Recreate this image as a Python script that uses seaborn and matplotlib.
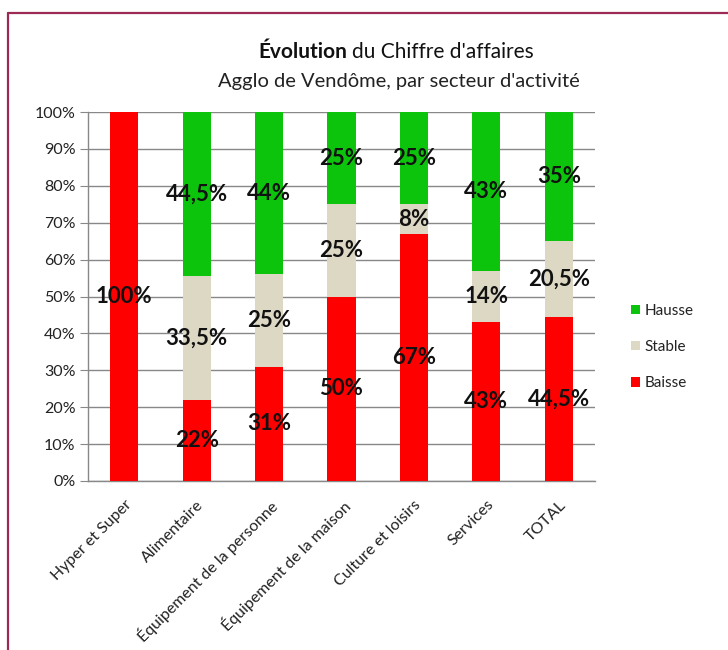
import matplotlib
matplotlib.use("Agg")
import matplotlib.pyplot as plt
import seaborn as sns
import numpy as np
import pandas as pd
from matplotlib.patches import Patch
from matplotlib.lines import Line2D

categories = ["Hyper et Super", "Alimentaire", "Équipement de la personne",
              "Équipement de la maison", "Culture et loisirs", "Services", "TOTAL"]
baisse = [100, 22, 31, 50, 67, 43, 44.5]
stable = [0, 33.5, 25, 25, 8, 14, 20.5]
hausse = [0, 44.5, 44, 25, 25, 43, 35]
series_names = ["Hausse", "Stable", "Baisse"]
colors = {"Hausse": "#0CC40C", "Stable": "#DDD8C4", "Baisse": "#FE0000"}

sns.set_style("white")
plt.rcParams["font.family"] = ["Lato", "DejaVu Sans"]

df = pd.DataFrame({"cat": categories, "Baisse": baisse, "Stable": stable, "Hausse": hausse})
df["cum_stable"] = df["Baisse"] + df["Stable"]
df["cum_hausse"] = df["cum_stable"] + df["Hausse"]

W, H = 728, 650
fig = plt.figure(figsize=(W / 100, H / 100), dpi=100)
ax = fig.add_axes([88 / W, 1 - 481 / H, (595 - 88) / W, (481 - 112) / H])

# stacked bars drawn as overlapping cumulative totals
for col, name in [("cum_hausse", "Hausse"), ("cum_stable", "Stable"), ("Baisse", "Baisse")]:
    sns.barplot(data=df, x="cat", y=col, color=colors[name], saturation=1,
                width=0.39, linewidth=0, ax=ax, zorder=3)


def fr_pct(v):
    s = f"{v:g}".replace(".", ",")
    return s + "%"


for i in range(len(categories)):
    bottom = 0
    for name, vals in [("Baisse", baisse), ("Stable", stable), ("Hausse", hausse)]:
        v = vals[i]
        if v > 0:
            ax.text(i, bottom + v / 2, fr_pct(v), ha="center", va="center",
                    fontsize=16, fontweight="bold", color="#111111", zorder=5)
        bottom += v

ax.set_ylim(0, 100)
ax.set_xlim(-0.5, len(categories) - 0.5)
ax.set_yticks(np.arange(0, 101, 10))
ax.set_yticklabels([f"{t}%" for t in range(0, 101, 10)], fontsize=11.5, color="#222222")
ax.yaxis.grid(True, color="#888888", linewidth=1, zorder=0)
ax.set_axisbelow(True)
ax.set_xlabel("")
ax.set_ylabel("")
ax.set_xticks(range(len(categories)))
ax.set_xticklabels(categories, rotation=45, ha="right", rotation_mode="anchor",
                   fontsize=11.5, color="#222222")
ax.set_xticks(np.arange(-0.5, len(categories)), minor=True)
ax.tick_params(axis="x", which="major", length=0, pad=12)
ax.tick_params(axis="x", which="minor", length=5, color="#888888", direction="out")
ax.tick_params(axis="y", length=6, color="#888888", direction="out", left=True, pad=3)
sns.despine(ax=ax, top=True, right=True)
for side in ["left", "bottom"]:
    ax.spines[side].set_color("#888888")
    ax.spines[side].set_linewidth(1)

# title: bold first word, regular rest
fig.text(347 / W, 1 - 52 / H, "Évolution", ha="right", va="center",
         fontsize=15, fontweight="bold", color="#111111")
fig.text(352 / W, 1 - 52 / H, "du Chiffre d'affaires", ha="left", va="center",
         fontsize=15, color="#111111")
fig.text(399 / W, 1 - 82 / H, "Agglo de Vendôme, par secteur d'activité", ha="center",
         va="center", fontsize=14.5, color="#222222")

handles = [Patch(facecolor=colors[n], edgecolor="none") for n in series_names]
fig.legend(handles, series_names, loc="upper left", bbox_to_anchor=(617 / W, 1 - 290 / H),
           frameon=False, fontsize=11, handlelength=0.6, handleheight=0.6,
           handletextpad=0.3, labelspacing=1.45, labelcolor="#222222")

# outer frame (left and top only visible)
frame_color = "#9C2A55"
fig.add_artist(Line2D([8 / W, 8 / W], [1 - 13 / H, 0], color=frame_color, lw=1.6))
fig.add_artist(Line2D([8 / W, 1], [1 - 13 / H, 1 - 13 / H], color=frame_color, lw=1.6))

fig.savefig("out.png", dpi=100)
